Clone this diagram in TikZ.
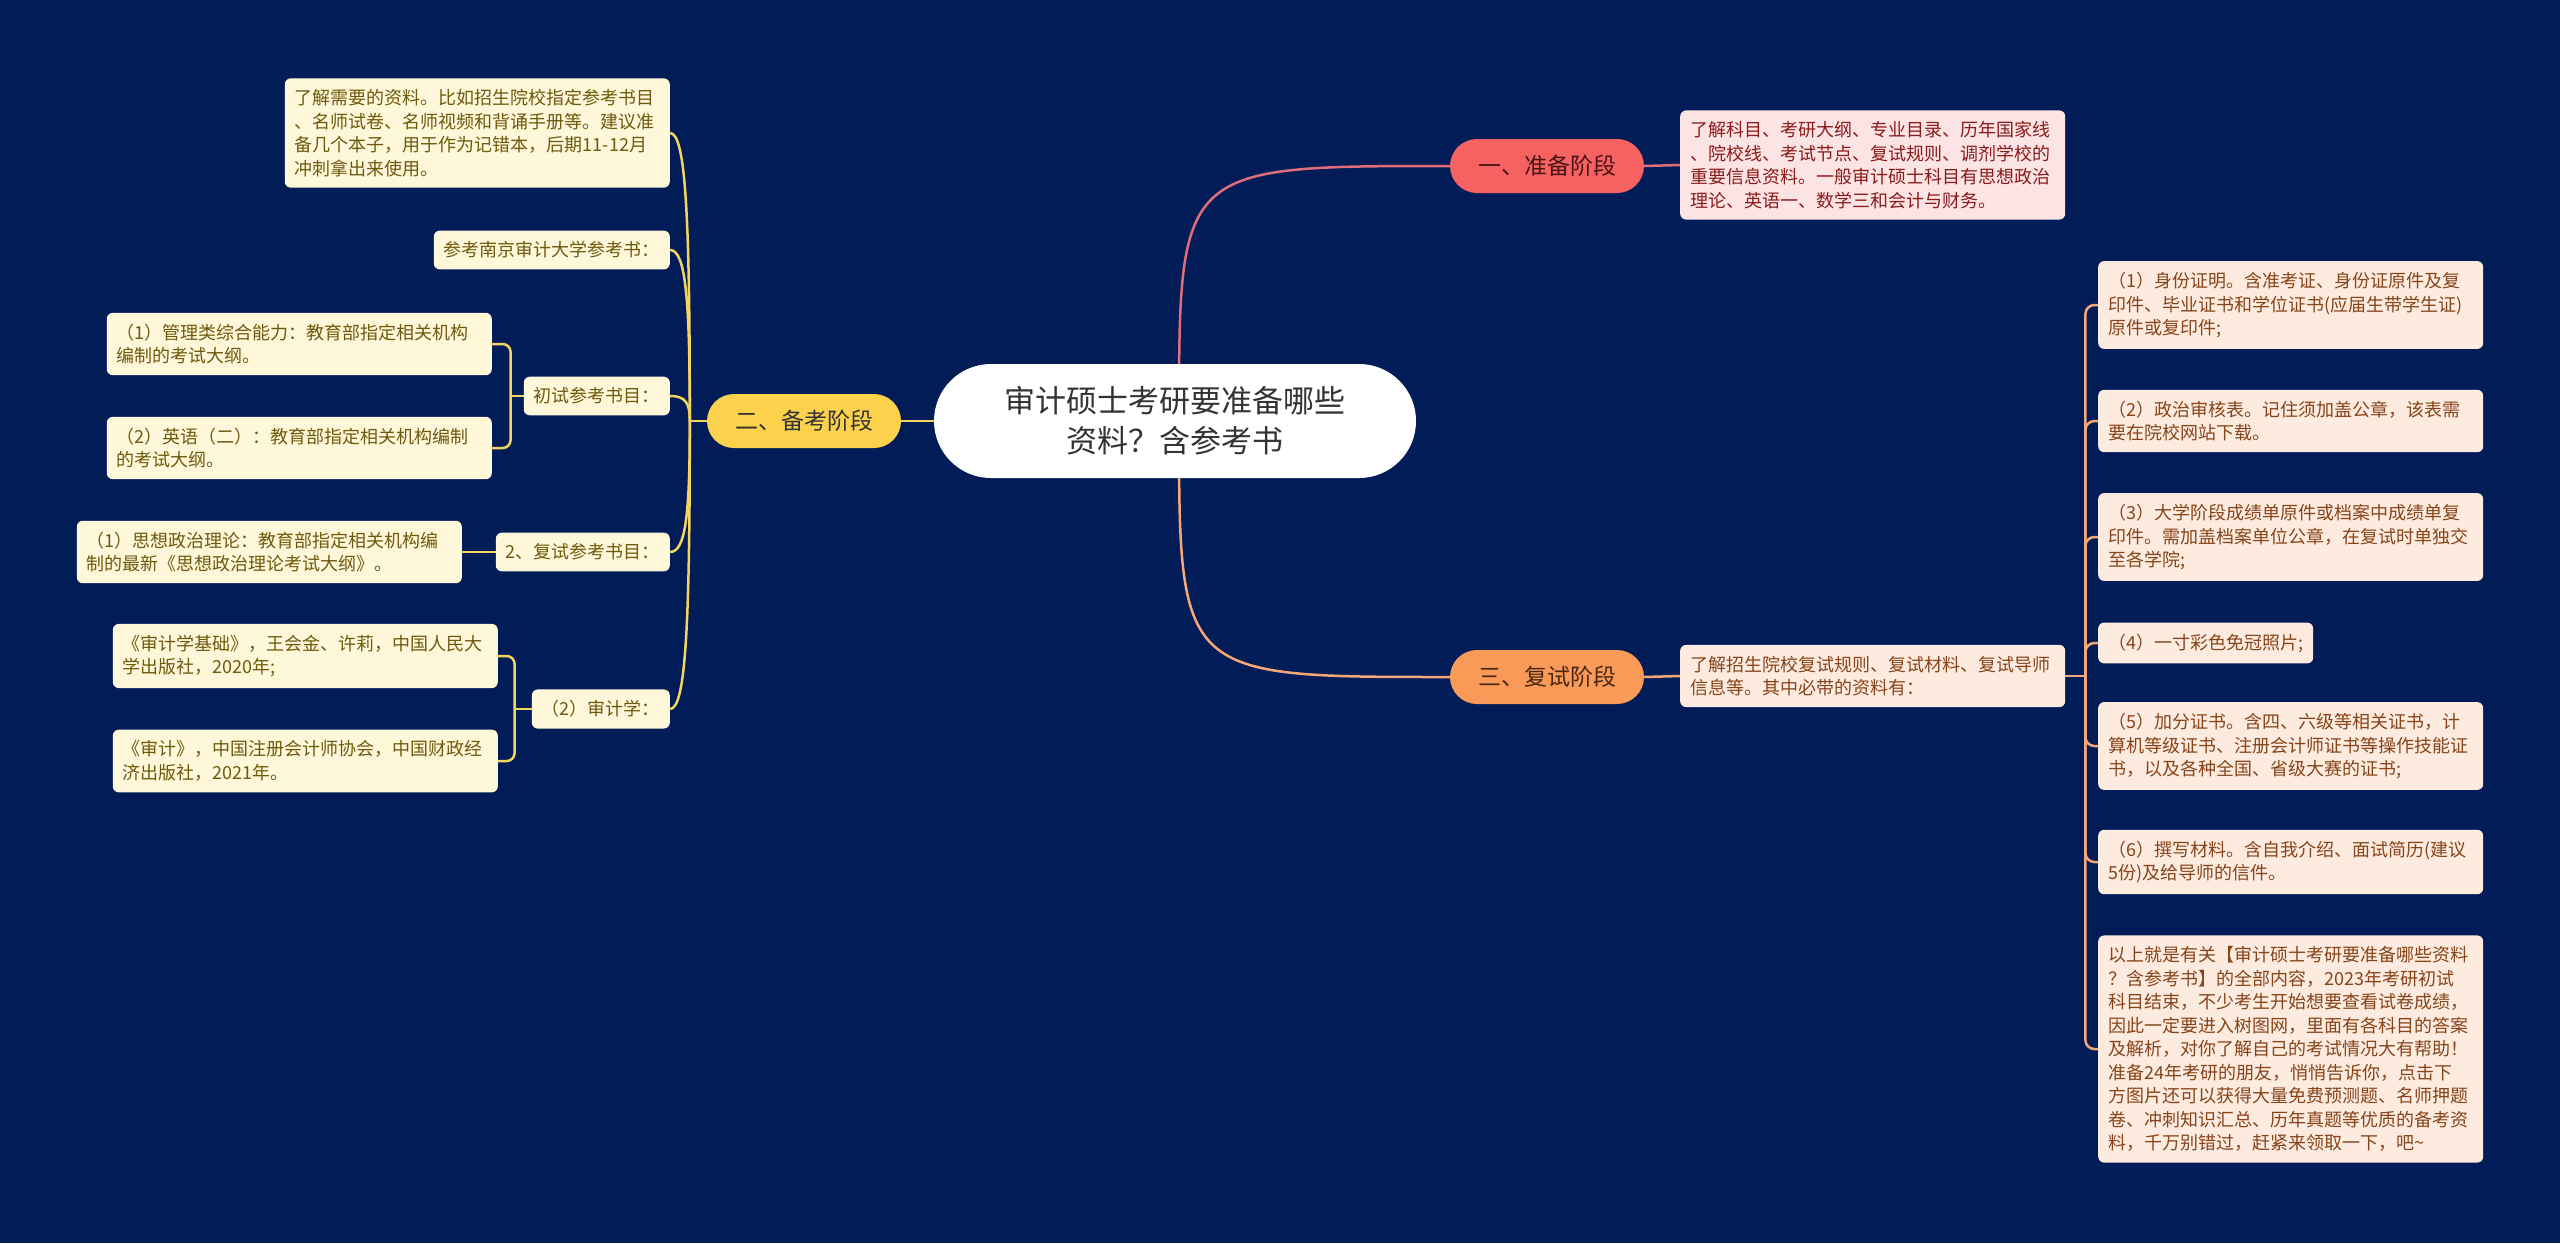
\documentclass[tikz,border=0pt]{standalone}
\usepackage{fontspec}
\setmainfont{Noto Sans CJK SC}
\usetikzlibrary{calc}
\pgfdeclarelayer{bglayer}
\pgfdeclarelayer{edgelayer}
\pgfsetlayers{bglayer,edgelayer,main}
\definecolor{bgc}{HTML}{021C58}
\definecolor{rootText}{HTML}{333333}
\definecolor{yFill}{HTML}{FCD24C}
\definecolor{yLine}{HTML}{F3D45E}
\definecolor{yLeafFill}{HTML}{FEF7DA}
\definecolor{yLeafText}{HTML}{6E5A0C}
\definecolor{rFill}{HTML}{F66262}
\definecolor{rText}{HTML}{4A1414}
\definecolor{rLine}{HTML}{E06E7A}
\definecolor{rLeafFill}{HTML}{FDE4E4}
\definecolor{rLeafText}{HTML}{8B1A1A}
\definecolor{oFill}{HTML}{FA9A58}
\definecolor{oText}{HTML}{4A2810}
\definecolor{oLine}{HTML}{F4A878}
\definecolor{oLeafFill}{HTML}{FDEBDF}
\definecolor{oLeafText}{HTML}{87441A}
\begin{document}
\begin{tikzpicture}[x=1pt,y=-1pt,
  rootbox/.style={fill=white, text=rootText, rounded corners=57pt, minimum width=482pt, minimum height=114pt, font=\fontsize{31}{40}\selectfont, align=center, inner sep=0pt},
  branchbox/.style={rounded corners=27pt, minimum width=194pt, minimum height=54pt, font=\fontsize{23}{28}\selectfont, inner sep=0pt},
  leafbox/.style={rounded corners=6pt, inner xsep=10pt, inner ysep=11pt, align=left, font=\fontsize{18}{23.5}\selectfont},
  widebox/.style={text width=365pt},
  yleaf/.style={leafbox, fill=yLeafFill, text=yLeafText},
  rleaf/.style={leafbox, fill=rLeafFill, text=rLeafText},
  oleaf/.style={leafbox, fill=oLeafFill, text=oLeafText},
  yedge/.style={draw=yLine, line width=2.5pt},
  redge/.style={draw=rLine, line width=2.5pt},
  oedge/.style={draw=oLine, line width=2.5pt}
]
\useasboundingbox (0,0) rectangle (2560,1243);
\begin{pgfonlayer}{bglayer}
\fill[bgc] (0,0) rectangle (2560,1243);
\end{pgfonlayer}

% root
\node[rootbox] (root) at (1175,421) {审计硕士考研要准备哪些\\资料？含参考书};

% branches
\node[branchbox, fill=rFill, text=rText] (b1) at (1547,166) {一、准备阶段};
\node[branchbox, fill=yFill, text=rootText] (b2) at (804,421) {二、备考阶段};
\node[branchbox, fill=oFill, text=oText] (b3) at (1547,677) {三、复试阶段};

% branch 1 leaf
\node[rleaf, widebox, anchor=west] (p1) at (1680,165) {了解科目、考研大纲、专业目录、历年国家线\\、院校线、考试节点、复试规则、调剂学校的\\重要信息资料。一般审计硕士科目有思想政治\\理论、英语一、数学三和会计与财务。};

% branch 3 leaves
\node[oleaf, widebox, anchor=west] (o0) at (1680,676) {了解招生院校复试规则、复试材料、复试导师\\信息等。其中必带的资料有：};
\node[oleaf, widebox, anchor=west] (o1) at (2098,305) {（1）身份证明。含准考证、身份证原件及复\\印件、毕业证书和学位证书(应届生带学生证)\\原件或复印件;};
\node[oleaf, widebox, anchor=west] (o2) at (2098,421) {（2）政治审核表。记住须加盖公章，该表需\\要在院校网站下载。};
\node[oleaf, widebox, anchor=west] (o3) at (2098,537) {（3）大学阶段成绩单原件或档案中成绩单复\\印件。需加盖档案单位公章，在复试时单独交\\至各学院;};
\node[oleaf, anchor=west] (o4) at (2098,643) {（4）一寸彩色免冠照片;};
\node[oleaf, widebox, anchor=west] (o5) at (2098,746) {（5）加分证书。含四、六级等相关证书，计\\算机等级证书、注册会计师证书等操作技能证\\书，以及各种全国、省级大赛的证书;};
\node[oleaf, widebox, anchor=west] (o6) at (2098,862) {（6）撰写材料。含自我介绍、面试简历(建议\\5份)及给导师的信件。};
\node[oleaf, widebox, anchor=west] (o7) at (2098,1049) {以上就是有关【审计硕士考研要准备哪些资料\\？含参考书】的全部内容，2023年考研初试\\科目结束，不少考生开始想要查看试卷成绩，\\因此一定要进入树图网，里面有各科目的答案\\及解析，对你了解自己的考试情况大有帮助！\\准备24年考研的朋友，悄悄告诉你，点击下\\方图片还可以获得大量免费预测题、名师押题\\卷、冲刺知识汇总、历年真题等优质的备考资\\料，千万别错过，赶紧来领取一下，吧\char`\~};

% branch 2 leaves
\node[yleaf, widebox, anchor=east] (ya) at (670,133) {了解需要的资料。比如招生院校指定参考书目\\、名师试卷、名师视频和背诵手册等。建议准\\备几个本子，用于作为记错本，后期11-12月\\冲刺拿出来使用。};
\node[yleaf, anchor=east] (yb) at (670,250) {参考南京审计大学参考书：};
\node[yleaf, anchor=east] (yc) at (670,396) {初试参考书目：};
\node[yleaf, widebox, anchor=east] (yc1) at (492,344) {（1）管理类综合能力：教育部指定相关机构\\编制的考试大纲。};
\node[yleaf, widebox, anchor=east] (yc2) at (492,448) {（2）英语（二）：教育部指定相关机构编制\\的考试大纲。};
\node[yleaf, anchor=east] (yd) at (670,552) {2、复试参考书目：};
\node[yleaf, widebox, anchor=east] (yd1) at (462,552) {（1）思想政治理论：教育部指定相关机构编\\制的最新《思想政治理论考试大纲》。};
\node[yleaf, anchor=east] (ye) at (670,709) {（2）审计学：};
\node[yleaf, widebox, anchor=east] (ye1) at (498,656) {《审计学基础》，王会金、许莉，中国人民大\\学出版社，2020年;};
\node[yleaf, widebox, anchor=east] (ye2) at (498,761) {《审计》，中国注册会计师协会，中国财政经\\济出版社，2021年。};

\begin{pgfonlayer}{edgelayer}
% root to branches
\draw[redge] ($(root.center)+(4,0)$) .. controls ($(root.center|-b1.west)+(4,0)$) .. (b1.west);
\draw[oedge] ($(root.center)+(4,0)$) .. controls ($(root.center|-b3.west)+(4,0)$) .. (b3.west);
\draw[yedge] (root.west) -- (b2.east);
% branch to first leaves
\draw[redge] (b1.east) -- (p1.west);
\draw[oedge] (b3.east) -- (o0.west);
% right bracket
\coordinate (otr) at ($(o0.east)+(20,0)$);
\draw[oedge] (o0.east) -- (otr);
\foreach \c in {o1,o2,o3,o4,o5,o6,o7} {
  \draw[oedge, rounded corners=9pt] (otr) |- (\c.west);
}
% left trunk
\coordinate (ytr) at ($(b2.west)+(-17,0)$);
\draw[yedge] (b2.west) -- (ytr);
\foreach \c in {ya,yb,yc,yd,ye} {
  \draw[yedge] (\c.east) .. controls ($(\c.east)+(16,0)$) and ($(ytr|-\c.east)!0.3!(ytr)$) .. (ytr);
}
% C bracket
\coordinate (ctr) at ($(yc.west)+(-13,0)$);
\draw[yedge] (yc.west) -- (ctr);
\draw[yedge, rounded corners=8pt] (ctr) |- (yc1.east);
\draw[yedge, rounded corners=8pt] (ctr) |- (yc2.east);
% D
\draw[yedge] (yd.west) -- (yd1.east);
% E bracket
\coordinate (etr) at ($(ye.west)+(-17,0)$);
\draw[yedge] (ye.west) -- (etr);
\draw[yedge, rounded corners=8pt] (etr) |- (ye1.east);
\draw[yedge, rounded corners=8pt] (etr) |- (ye2.east);
\end{pgfonlayer}
\end{tikzpicture}
\end{document}
